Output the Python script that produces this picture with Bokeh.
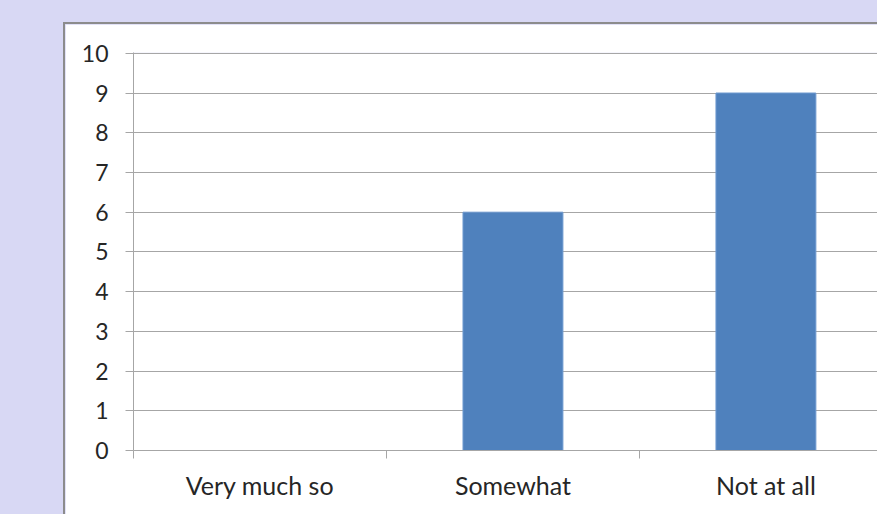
from bokeh.plotting import figure
from bokeh.layouts import column
from bokeh.models import FixedTicker, ColumnDataSource
from bokeh.embed import file_html
from bokeh.resources import INLINE

# Survey responses
categories = ["Very much so", "Somewhat", "Not at all"]
counts = [0, 6, 9]
y_ticks = [0, 1, 2, 3, 4, 5, 6, 7, 8, 9, 10]

GRID = "#a6a6a6"
BAR = "#4f81bd"
FONT = "Lato"

centers = [i + 0.5 for i in range(len(categories))]
src = ColumnDataSource(dict(x=centers, top=counts, cat=categories))

p = figure(
    width=814, height=492,
    x_range=(0, 2.949), y_range=(0, 10.02),
    output_backend="svg", toolbar_location=None,
    min_border_left=68, min_border_top=28, min_border_bottom=66, min_border_right=0,
    background_fill_color="white", border_fill_color="white",
    outline_line_color=None,
    styles={"border-left": "2px solid #8c8c8c", "border-top": "2px solid #8c8c8c"},
)
p.margin = (22, 0, 0, 63)

p.vbar(x="x", top="top", width=0.395, source=src,
       fill_color=BAR, line_color="#6f9ad0", line_width=1)

# y axis
p.yaxis.ticker = FixedTicker(ticks=y_ticks)
p.yaxis.axis_line_color = GRID
p.yaxis.major_tick_line_color = GRID
p.yaxis.major_tick_out = 8
p.yaxis.major_tick_in = 0
p.yaxis.minor_tick_line_color = None
p.yaxis.major_label_standoff = 17
p.yaxis.major_label_text_font = FONT
p.yaxis.major_label_text_font_size = "23px"
p.yaxis.major_label_text_color = "#262626"

# x axis: labels at category centres, tick marks at boundaries
p.xaxis.ticker = FixedTicker(ticks=centers, minor_ticks=[0, 1, 2, 3])
p.xaxis.major_label_overrides = {c: lab for c, lab in zip(centers, categories)}
p.xaxis.axis_line_color = GRID
p.xaxis.major_tick_line_color = None
p.xaxis.minor_tick_line_color = GRID
p.xaxis.minor_tick_out = 8
p.xaxis.minor_tick_in = 0
p.xaxis.major_label_standoff = 11
p.xaxis.major_label_text_font = FONT
p.xaxis.major_label_text_font_size = "25px"
p.xaxis.major_label_text_color = "#262626"

p.xgrid.grid_line_color = None
p.ygrid.ticker = FixedTicker(ticks=y_ticks)
p.ygrid.grid_line_color = GRID
p.ygrid.grid_line_width = 1

layout = column(p, styles={"background-color": "#d8d8f4"})

open("out.html", "w").write(file_html(layout, INLINE))
